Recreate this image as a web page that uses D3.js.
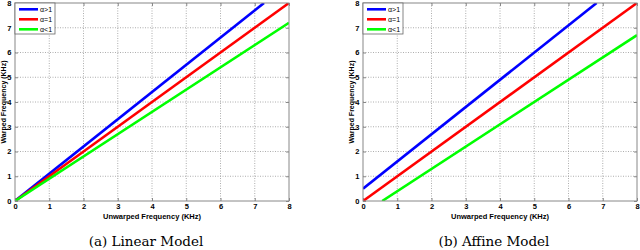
<!DOCTYPE html>
<html>
<head>
<meta charset="utf-8">
<script src="https://cdnjs.cloudflare.com/ajax/libs/d3/7.8.5/d3.min.js"></script>
<style>
  body { margin: 0; background: #fff; }
  svg { display: block; }
  .tick text { font-family: "Liberation Sans", Arial, sans-serif; font-weight: bold; font-size: 7.5px; fill: #000; }
</style>
</head>
<body>
<svg id="chart" width="640" height="250"></svg>
<script>
// x values (KHz) used for both panels
const xDomain = [0, 8];
const yDomain = [0, 8];
const xTicks = [0, 1, 2, 3, 4, 5, 6, 7, 8];
const yTicks = [0, 1, 2, 3, 4, 5, 6, 7, 8];

const seriesNames = ['α>1', 'α=1', 'α<1'];
const seriesColors = ['#0000ff', '#ff0000', '#00ff00'];

// linear model: endpoints of each line [x, y]
const linearBlue = [[0, 0], [7.27, 8]];
const linearRed = [[0, 0], [8, 8]];
const linearGreen = [[0, 0], [8, 7.2]];

// affine model
const affineBlue = [[0, 0.5], [6.82, 8]];
const affineRed = [[0, 0], [8, 8]];
const affineGreen = [[0.56, 0], [8, 6.7]];

const panels = [
    { left: 15, caption: '(a) Linear Model', captionX: 146, lines: [linearBlue, linearRed, linearGreen] },
    { left: 363, caption: '(b) Affine Model', captionX: 494, lines: [affineBlue, affineRed, affineGreen] }
];

const svg = d3.select('#chart');
const plotW = 274, plotH = 198, plotTop = 3;

panels.forEach((p) => {
    const g = svg.append('g').attr('transform', `translate(${p.left},${plotTop})`);
    const x = d3.scaleLinear().domain(xDomain).range([0, plotW]);
    const y = d3.scaleLinear().domain(yDomain).range([plotH, 0]);

    // grid
    g.append('g').selectAll('line')
        .data(xTicks.slice(1, -1))
        .join('line')
        .attr('x1', d => x(d)).attr('x2', d => x(d))
        .attr('y1', 0).attr('y2', plotH)
        .attr('stroke', '#999').attr('stroke-width', 0.8)
        .attr('stroke-dasharray', '1,1.5');
    g.append('g').selectAll('line')
        .data(yTicks.slice(1, -1))
        .join('line')
        .attr('x1', 0).attr('x2', plotW)
        .attr('y1', d => y(d)).attr('y2', d => y(d))
        .attr('stroke', '#999').attr('stroke-width', 0.8)
        .attr('stroke-dasharray', '1,1.5');

    // axes
    const xAxis = g.append('g').attr('transform', `translate(0,${plotH})`)
        .call(d3.axisBottom(x).tickValues(xTicks).tickSize(-3).tickPadding(3));
    const yAxis = g.append('g')
        .call(d3.axisLeft(y).tickValues(yTicks).tickSize(-3).tickPadding(3.5));
    [xAxis, yAxis].forEach(a => {
        a.select('.domain').remove();
        a.selectAll('.tick line').attr('stroke', '#888');
    });
    g.append('g')
        .call(d3.axisTop(x).tickValues(xTicks).tickSize(-3).tickFormat(''))
        .call(a => { a.select('.domain').remove(); a.selectAll('.tick line').attr('stroke', '#888'); });
    g.append('g').attr('transform', `translate(${plotW},0)`)
        .call(d3.axisRight(y).tickValues(yTicks).tickSize(-3).tickFormat(''))
        .call(a => { a.select('.domain').remove(); a.selectAll('.tick line').attr('stroke', '#888'); });

    // data lines
    const line = d3.line().x(d => x(d[0])).y(d => y(d[1]));
    g.append('defs').append('clipPath').attr('id', 'clip' + p.left)
        .append('rect').attr('width', plotW).attr('height', plotH);
    g.append('g').attr('clip-path', `url(#clip${p.left})`)
        .selectAll('path')
        .data(p.lines)
        .join('path')
        .attr('d', line)
        .attr('fill', 'none')
        .attr('stroke', (d, i) => seriesColors[i])
        .attr('stroke-width', 2.6);

    // frame
    g.append('rect').attr('width', plotW).attr('height', plotH)
        .attr('fill', 'none').attr('stroke', '#888').attr('stroke-width', 1);

    // legend
    const lg = g.append('g');
    lg.append('rect').attr('x', 0).attr('y', 0).attr('width', 40).attr('height', 31)
        .attr('fill', '#fff').attr('stroke', '#666').attr('stroke-width', 0.8);
    seriesNames.forEach((name, i) => {
        const ly = 6.3 + i * 10;
        lg.append('line').attr('x1', 4).attr('x2', 23).attr('y1', ly).attr('y2', ly)
            .attr('stroke', seriesColors[i]).attr('stroke-width', 2.6);
        lg.append('text').attr('x', 25).attr('y', ly + 2.5)
            .attr('font-family', '"Liberation Sans", Arial, sans-serif')
            .attr('font-size', 7).attr('fill', '#000')
            .text(name);
    });

    // axis labels
    g.append('text')
        .attr('x', plotW / 2).attr('y', plotH + 18)
        .attr('text-anchor', 'middle')
        .attr('font-family', '"Liberation Sans", Arial, sans-serif')
        .attr('font-size', 7.5).attr('font-weight', 'bold')
        .text('Unwarped Frequency (KHz)');
    g.append('text')
        .attr('transform', `translate(-9.5,${plotH / 2}) rotate(-90)`)
        .attr('text-anchor', 'middle')
        .attr('font-family', '"Liberation Sans", Arial, sans-serif')
        .attr('font-size', 7).attr('font-weight', 'bold')
        .text('Warped Frequency (KHz)');

    // caption
    svg.append('text')
        .attr('x', p.captionX).attr('y', 246)
        .attr('text-anchor', 'middle')
        .attr('font-family', '"DejaVu Serif", "Liberation Serif", serif')
        .attr('font-size', 13.5)
        .text(p.caption);
});
</script>
</body>
</html>
